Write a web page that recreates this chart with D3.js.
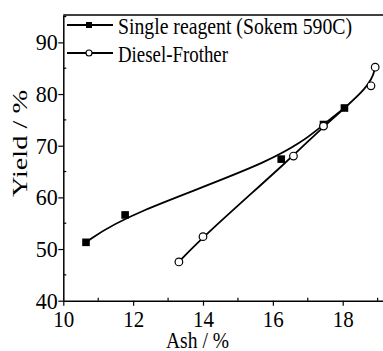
<!DOCTYPE html>
<html>
<head>
<meta charset="utf-8">
<script src="https://cdn.jsdelivr.net/npm/d3@7"></script>
<style>
  html, body { margin: 0; padding: 0; background: #fff; }
  svg { display: block; }
  svg text { font-family: "Liberation Serif", "Times New Roman", "DejaVu Serif", serif !important; fill: #000; }
</style>
</head>
<body>
<svg id="chart"></svg>
<script>
'use strict';

const WIDTH = 383;
const HEIGHT = 351;
const SERIF = '"Liberation Serif", "Times New Roman", serif';

// values
const singleAsh = [10.65, 11.77, 16.24, 17.45, 18.05];
const singleYield = [51.3, 56.6, 67.4, 74.1, 77.3];
const dieselAsh = [13.31, 14.0, 16.59, 17.45, 18.81, 18.93];
const dieselYield = [47.5, 52.4, 68.0, 73.8, 81.6, 85.2];

const xTicks = [10, 12, 14, 16, 18];
const xMinor = [11, 13, 15, 17, 19];
const yTicks = [40, 50, 60, 70, 80, 90];
const yMinor = [45, 55, 65, 75, 85, 95];

const legendLabels = ['Single reagent (Sokem 590C)', 'Diesel-Frother'];

const svg = d3.select('#chart').attr('width', WIDTH).attr('height', HEIGHT);

const x = d3.scaleLinear().domain([10, 19.5]).range([63.3, 63.3 + 9.5 * 34.925]);
const y = d3.scaleLinear().domain([40, 95.3]).range([300.7, 15]);

// frame: left axis, bottom axis, top line (right side cut off)
svg.append('line')
    .attr('x1', x(10)).attr('x2', WIDTH)
    .attr('y1', y(95.3)).attr('y2', y(95.3))
    .attr('stroke', '#000').attr('stroke-width', 1.5);

const xAxis = svg.append('g')
    .attr('transform', 'translate(0,' + y(40) + ')')
    .call(d3.axisBottom(x).tickValues(xTicks).tickSize(5).tickSizeOuter(0).tickFormat(d3.format('d')));
xAxis.select('.domain').attr('stroke-width', 1.5);
xAxis.selectAll('.tick line').attr('stroke-width', 1.2);
xAxis.selectAll('.tick text')
    .attr('y', 26.5).attr('dy', null)
    .attr('font-size', 23)
    .attr('textLength', 21).attr('lengthAdjust', 'spacingAndGlyphs');

const yAxis = svg.append('g')
    .attr('transform', 'translate(' + x(10) + ',0)')
    .call(d3.axisLeft(y).tickValues(yTicks).tickSize(5).tickSizeOuter(0).tickFormat(d3.format('d')));
yAxis.select('.domain').attr('stroke-width', 1.5);
yAxis.selectAll('.tick line').attr('stroke-width', 1.2);
yAxis.selectAll('.tick text')
    .attr('x', -5.5).attr('dy', '0.33em')
    .attr('font-size', 23)
    .attr('textLength', 22).attr('lengthAdjust', 'spacingAndGlyphs');
svg.selectAll('g').attr('font-family', SERIF);

// minor ticks point inward
svg.append('g').selectAll('line')
    .data(xMinor)
    .join('line')
    .attr('x1', d => x(d)).attr('x2', d => x(d))
    .attr('y1', y(40)).attr('y2', y(40) - 3)
    .attr('stroke', '#000').attr('stroke-width', 1.2);
svg.append('g').selectAll('line')
    .data(yMinor)
    .join('line')
    .attr('x1', x(10)).attr('x2', x(10) + 3)
    .attr('y1', d => y(d)).attr('y2', d => y(d))
    .attr('stroke', '#000').attr('stroke-width', 1.2);

// axis titles
svg.append('text')
    .attr('x', 197.5).attr('y', 347.5)
    .attr('text-anchor', 'middle')
    .attr('font-family', SERIF)
    .attr('font-size', 24)
    .attr('textLength', 63).attr('lengthAdjust', 'spacingAndGlyphs')
    .text('Ash / %');
svg.append('text')
    .attr('transform', 'translate(26.5,143.5) rotate(-90)')
    .attr('text-anchor', 'middle')
    .attr('font-family', SERIF)
    .attr('font-size', 21)
    .attr('textLength', 107).attr('lengthAdjust', 'spacingAndGlyphs')
    .text('Yield / %');

// smoothed curves through the points
const line = d3.line()
    .x(d => x(d[0]))
    .y(d => y(d[1]))
    .curve(d3.curveBasis);

const singlePts = d3.zip(singleAsh, singleYield);
const dieselPts = d3.zip(dieselAsh, dieselYield);

svg.append('path').datum(singlePts)
    .attr('d', line).attr('fill', 'none')
    .attr('stroke', '#000').attr('stroke-width', 1.8);
svg.append('path').datum(dieselPts)
    .attr('d', line).attr('fill', 'none')
    .attr('stroke', '#000').attr('stroke-width', 1.8);

// markers
svg.append('g').selectAll('rect')
    .data(singlePts)
    .join('rect')
    .attr('x', d => x(d[0]) - 3.8).attr('y', d => y(d[1]) - 3.8)
    .attr('width', 7.6).attr('height', 7.6)
    .attr('fill', '#000');
svg.append('g').selectAll('circle')
    .data(dieselPts)
    .join('circle')
    .attr('cx', d => x(d[0])).attr('cy', d => y(d[1]))
    .attr('r', 3.8)
    .attr('fill', '#fff').attr('stroke', '#000').attr('stroke-width', 1.2);

// legend
const legendY = [25, 53];
const legendLen = [234, 110];
const lg = svg.append('g');
legendLabels.forEach(function(label, i) {
    let row = lg.append('g').attr('transform', 'translate(0,' + legendY[i] + ')');
    row.append('line')
        .attr('x1', 67).attr('x2', 113).attr('y1', 0).attr('y2', 0)
        .attr('stroke', '#000').attr('stroke-width', 1.8);
    if (i == 0) {
        row.append('rect')
            .attr('x', 86).attr('y', -3).attr('width', 6).attr('height', 6)
            .attr('fill', '#000');
    } else {
        row.append('circle')
            .attr('cx', 89).attr('cy', 0).attr('r', 3)
            .attr('fill', '#fff').attr('stroke', '#000').attr('stroke-width', 1.1);
    }
    row.append('text')
        .attr('x', 118).attr('y', 8.5)
        .attr('font-family', SERIF)
        .attr('font-size', 24)
        .attr('textLength', legendLen[i]).attr('lengthAdjust', 'spacingAndGlyphs')
        .text(label);
});
</script>
</body>
</html>
